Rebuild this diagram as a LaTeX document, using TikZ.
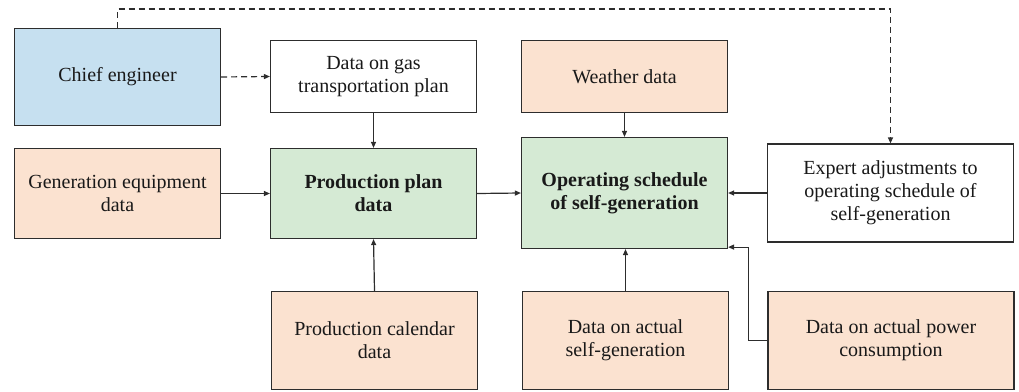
\documentclass[tikz,border=0pt]{standalone}
\usepackage{fontspec}
\setmainfont{Liberation Serif}
\usetikzlibrary{arrows.meta}
\definecolor{bluefill}{RGB}{198,224,240}
\definecolor{orangefill}{RGB}{251,226,208}
\definecolor{greenfill}{RGB}{213,234,212}
\definecolor{edge}{RGB}{45,45,45}
\begin{document}
\begin{tikzpicture}[x=1pt,y=-1pt,
  box/.style={draw=edge, line width=1.2pt, align=center, inner sep=0pt,
    font=\fontsize{20}{23}\selectfont\rmfamily, text=black!90},
  sz/.style 2 args={minimum width=#1pt, minimum height=#2pt},
  conn/.style={draw=edge, line width=1.2pt, -{Triangle[length=6pt,width=5pt]}},
  dconn/.style={conn, dash pattern=on 6pt off 4pt}]
\useasboundingbox (0,0) rectangle (1019,391);
\node[box, sz={206}{97}, fill=bluefill] (chief) at (117.5,77) {Chief engineer};
\node[box, sz={206}{72}, fill=white] (gas) at (373.5,76.5) {Data on gas\\transportation plan};
\node[box, sz={206}{90}, fill=orangefill] (gen) at (117.5,193.5) {Generation equipment\\data};
\node[box, sz={206}{90}, fill=greenfill, font=\fontsize{20}{23}\selectfont\rmfamily\bfseries] (prod) at (373.5,193.5) {Production plan\\data};
\node[box, sz={206}{72}, fill=orangefill] (weather) at (624.5,76.5) {Weather data};
\node[box, sz={206}{111}, fill=greenfill, font=\fontsize{20}{23}\selectfont\rmfamily\bfseries] (oper) at (624.5,193) {Operating schedule\\of self-generation};
\node[box, sz={246}{98}, fill=white] (expert) at (890.5,193) {Expert adjustments to\\operating schedule of\\self-generation};
\node[box, sz={206}{98}, fill=orangefill] (cal) at (374.5,340.5) {Production calendar\\data};
\node[box, sz={206}{98}, fill=orangefill] (self) at (625.5,340.5) {Data on actual\\self-generation};
\node[box, sz={246}{98}, fill=orangefill] (power) at (891,340.5) {Data on actual power\\consumption};
\draw[dconn] (chief.north) -- ++(0,-19) -| (expert.north);
\draw[dconn] (chief.east) -- (gas.west);
\draw[conn] (gas.south) -- (prod.north);
\draw[conn] (gen.east) -- (prod.west);
\draw[conn] (prod.east) -- (oper.west);
\draw[conn] (weather.south) -- (oper.north);
\draw[conn] (expert.west) -- (oper.east);
\draw[conn] (cal.north) -- (prod.south);
\draw[conn] (self.north) -- (self.north |- oper.south);
\coordinate (pin) at ([yshift=2pt]oper.south east);
\draw[conn] (power.west) -- ++(-19,0) |- (pin);
\end{tikzpicture}
\end{document}
